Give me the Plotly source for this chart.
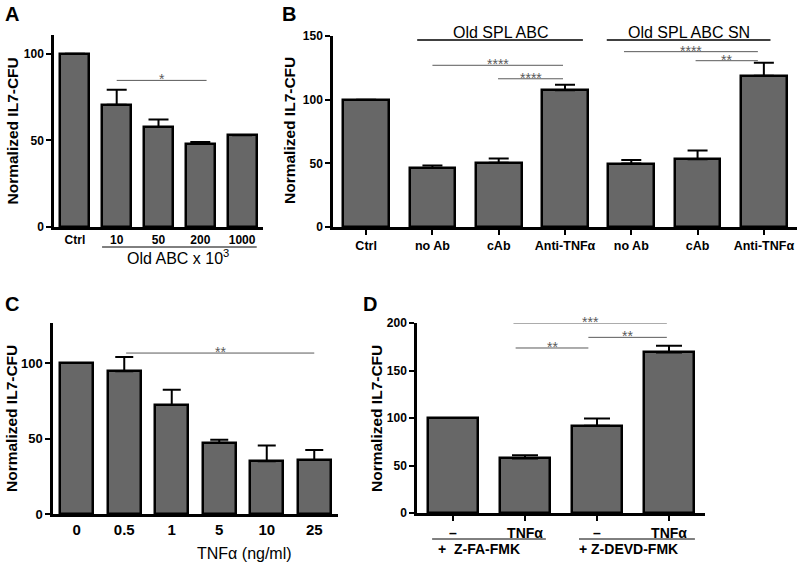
import plotly.graph_objects as go

# ---------------- data ----------------
A_categories = ["Ctrl", "10", "50", "200", "1000"]
A_values = [100, 70.6, 57.7, 48.1, 52.9]
A_err = [None, 8.6, 4.4, 0.9, None]
A_sig = [(1.0, 3.15, 84.6, "*")]

B_categories = ["Ctrl", "no Ab", "cAb", "Anti-TNFα", "no Ab", "cAb", "Anti-TNFα"]
B_values = [100, 46.4, 50.4, 107.3, 49.8, 53.2, 118.8]
B_err = [None, 1.9, 3.4, 4.4, 2.9, 6.9, 10.2]
B_sig = [(1.0, 2.97, 127.0, "****"), (1.99, 2.97, 116.4, "****"),
         (3.89, 5.91, 137.7, "****"), (4.97, 5.91, 130.6, "**")]
B_groups = [(0.77, 3.27, "Old SPL ABC"), (3.63, 6.10, "Old SPL ABC SN")]

C_categories = ["0", "0.5", "1", "5", "10", "25"]
C_values = [100, 94.5, 72.2, 47.2, 34.9, 35.8]
C_err = [None, 9.5, 10.1, 2.0, 10.4, 6.6]
C_sig = [(1.04, 5.0, 106.6, "**")]

D_categories = ["–", "TNFα", "–", "TNFα"]
D_values = [100, 57.5, 91.9, 169.0]
D_err = [None, 3.2, 7.7, 7.0]
D_sig = [(0.87, 1.88, 173.7, "**"), (0.84, 2.97, 200.0, "***"), (1.88, 2.97, 184.9, "**")]
# (line start, line end, label centre, label)
D_groups = [(-0.29, 1.29, 0.36, "+\u00a0\u00a0Z-FA-FMK"), (1.75, 3.36, 2.44, "+\u00a0Z-DEVD-FMK")]

Y_TITLE = "Normalized IL7-CFU"
FONT = "Liberation Sans, Arial, sans-serif"
BAR_FILL = "#676767"
SIG_COLOR = "#5a5a5a"

W, H = 800, 562


def px(x):
    return x / W


def py(y):
    return 1 - y / H


fig = go.Figure()

panels = [
    ("", A_categories, A_values, A_err, A_sig, (54, 263), (35, 227), [0, 110.8], [0, 50, 100], 12, 12, False, 10),
    ("2", B_categories, B_values, B_err, B_sig, (333, 797), (36, 227), [0, 150], [0, 50, 100, 150], 12.5, 12, True, 10),
    ("3", C_categories, C_values, C_err, C_sig, (53, 338), (323, 514), [0, 126.5], [0, 50, 100], 15, 13, False, 9),
    ("4", D_categories, D_values, D_err, D_sig, (417, 705), (323, 513), [0, 200], [0, 50, 100, 150, 200], 14, 12, True, 13),
]

shapes = []
annotations = []

for name, cats, vals, errs, sig, xd, yd, yr, yt, xts, yts, xticks, capw in panels:
    xa = "x" + name
    ya = "y" + name
    n = len(cats)
    fig.add_trace(go.Bar(
        x=list(range(n)), y=vals, width=0.69,
        marker=dict(color=BAR_FILL, line=dict(color="black", width=2.5)),
        error_y=dict(type="data", symmetric=False, array=errs, arrayminus=[0] * n,
                     color="black", thickness=2, width=capw),
        xaxis=xa, yaxis=ya, showlegend=False, hoverinfo="skip",
    ))
    xkey = "xaxis" + name
    ykey = "yaxis" + name
    fig.update_layout(**{
        xkey: dict(domain=[px(xd[0]), px(xd[1])], range=[-0.5, n - 0.5], anchor=ya,
                   tickvals=list(range(n)), ticktext=cats, automargin=False,
                   showline=True, linecolor="black", linewidth=2.5,
                   ticks="outside" if xticks else "", ticklen=5, tickwidth=2, tickcolor="black",
                   showgrid=False, zeroline=False,
                   tickfont=dict(family=FONT, size=xts, color="black", weight="bold")),
        ykey: dict(domain=[py(yd[1]), py(yd[0])], range=yr, anchor=xa, automargin=False,
                   tickvals=yt, showline=True, linecolor="black", linewidth=2.5,
                   ticks="outside", ticklen=5, tickwidth=2, tickcolor="black",
                   showgrid=False, zeroline=False,
                   tickfont=dict(family=FONT, size=yts, color="black", weight="bold")),
    })
    for x0, x1, yv, stars in sig:
        shapes.append(dict(type="line", xref=xa, yref=ya, x0=x0, x1=x1, y0=yv, y1=yv,
                           line=dict(color=SIG_COLOR, width=1)))
        annotations.append(dict(x=(x0 + x1) / 2, y=yv, xref=xa, yref=ya, text=stars,
                                showarrow=False, yanchor="middle", yshift=1,
                                font=dict(family=FONT, size=14, color=SIG_COLOR)))

# Panel A grouping line under axis
shapes.append(dict(type="line", xref="x", yref="paper", x0=0.65, x1=4.35, y0=py(247), y1=py(247),
                   line=dict(color="black", width=1)))
annotations.append(dict(x=2.47, y=py(257), xref="x", yref="paper", text="Old ABC x 10<sup>3</sup>",
                        showarrow=False, yanchor="middle",
                        font=dict(family=FONT, size=16, color="black")))

# Panel B group brackets
for x0, x1, label in B_groups:
    shapes.append(dict(type="line", xref="x2", yref="paper", x0=x0, x1=x1, y0=py(40), y1=py(40),
                       line=dict(color="black", width=1.5)))
    annotations.append(dict(x=(x0 + x1) / 2, y=py(32), xref="x2", yref="paper", text=label,
                            showarrow=False, yanchor="middle",
                            font=dict(family=FONT, size=16, color="black")))

# Panel C x title
annotations.append(dict(x=px(195), y=py(553), xref="paper", yref="paper", text="TNFα (ng/ml)",
                        showarrow=False, yanchor="middle",
                        font=dict(family=FONT, size=16, color="black")))

# Panel D groups
for x0, x1, xc, label in D_groups:
    shapes.append(dict(type="line", xref="x4", yref="paper", x0=x0, x1=x1, y0=py(539), y1=py(539),
                       line=dict(color="black", width=1)))
    annotations.append(dict(x=xc, y=py(549), xref="x4", yref="paper", text=label,
                            showarrow=False, yanchor="middle",
                            font=dict(family=FONT, size=14, color="black", weight="bold")))

# Y titles
for xc, yc in [(12.5, 131), (290, 131), (11, 419), (376, 419)]:
    annotations.append(dict(x=px(xc), y=py(yc), xref="paper", yref="paper", text=Y_TITLE,
                            textangle=-90, showarrow=False, xanchor="center", yanchor="middle",
                            font=dict(family=FONT, size=15.5, color="black", weight="bold")))

# Panel letters
for letter, xl, yt in [("A", 3, 1), ("B", 280, 1), ("C", 3, 291), ("D", 361, 291)]:
    annotations.append(dict(x=px(xl), y=py(yt), xref="paper", yref="paper", text=letter,
                            showarrow=False, xanchor="left", yanchor="top",
                            font=dict(family=FONT, size=20, color="black", weight="bold")))

fig.update_layout(width=W, height=H, margin=dict(l=0, r=0, t=0, b=0, autoexpand=False),
                  paper_bgcolor="white", plot_bgcolor="white",
                  shapes=shapes, annotations=annotations, bargap=0, hovermode=False)

fig.write_html("out.html", config={"displayModeBar": False},
               post_script="document.body.style.margin='0';")
